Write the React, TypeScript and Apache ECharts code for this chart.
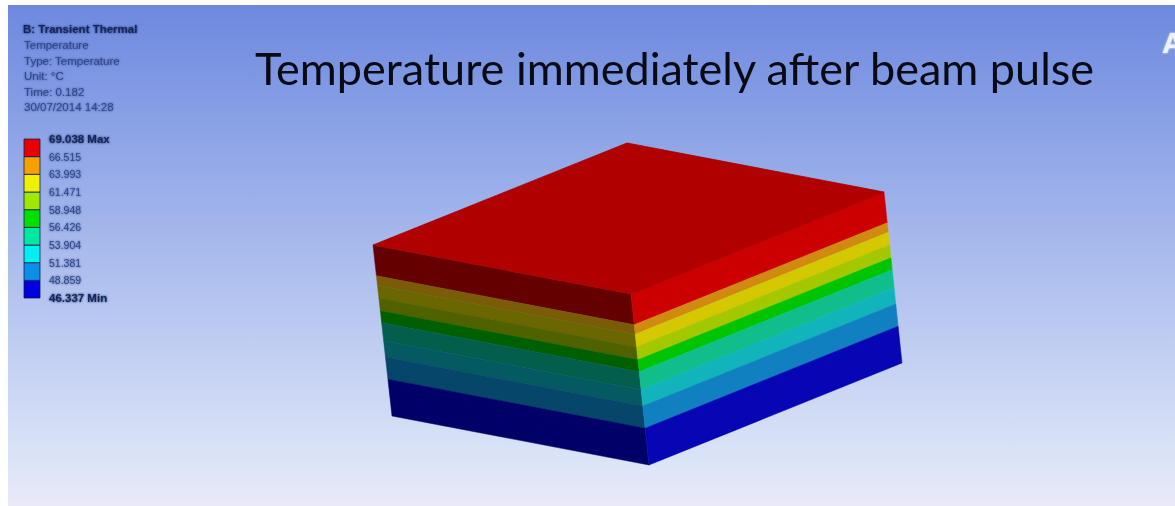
import React, { useEffect, useRef } from "react";
import * as echarts from "echarts";

// ---- Data ----
const chartTitle = "Temperature immediately after beam pulse";
const headerLines = ["Temperature", "Type: Temperature", "Unit: °C", "Time: 0.182", "30/07/2014 14:28"];
const headerTitle = "B: Transient Thermal";
// legend boundaries, from the bottom of the scale upward
const legendValues = [46.337, 48.859, 51.381, 53.904, 56.426, 58.948, 61.471, 63.993, 66.515, 69.038];
const legendColors = ["#0000e0", "#0a8ee8", "#00f0f0", "#00e8a0", "#00e000", "#a0e800", "#f0f000", "#f8a000", "#e80000"];
// box side bands, top to bottom, as fractions of the box height
const bandEdges = [0, 0.18, 0.235, 0.31, 0.385, 0.455, 0.56, 0.655, 0.785, 1];
const bandLitColors = ["#cc0000", "#d08a10", "#d4c800", "#a4c800", "#00c400", "#10be8c", "#12b4bc", "#1080c0", "#0606b4"];
const bandDarkColors = ["#640000", "#7a5c08", "#6c6600", "#506200", "#006000", "#045e4c", "#045a60", "#06466a", "#000068"];

const W = 1175;
const H = 506;

const faceLeft = { topA: [373, 245], topB: [631, 294], botA: [392, 416], botB: [649, 465] };
const faceRight = { topA: [631, 294], topB: [884, 192], botA: [649, 465], botB: [902, 363] };
const faceTop = [[373, 245], [627, 143], [884, 192], [631, 294]];

const mix = (a: number[], b: number[], t: number) => [a[0] + (b[0] - a[0]) * t, a[1] + (b[1] - a[1]) * t];

function bandPolygon(face: typeof faceLeft, t0: number, t1: number, api: any) {
  const pts = [
    mix(face.topA, face.botA, t0),
    mix(face.topB, face.botB, t0),
    mix(face.topB, face.botB, t1),
    mix(face.topA, face.botA, t1),
  ];
  return pts.map((p) => api.coord(p));
}

const smallFont = "Liberation Sans";

export default function App() {
  const ref = useRef<HTMLDivElement>(null);
  useEffect(() => {
    const chart = echarts.init(ref.current!, null, { renderer: "svg", width: W, height: H });
    const blur = (color: string) => ({ textShadowColor: color, textShadowBlur: 2 });
    chart.setOption({
      animation: false,
      title: {
        text: chartTitle,
        left: 255,
        top: 45,
        padding: 0,
        textStyle: { fontFamily: "Lato", fontSize: 45, fontWeight: "normal", color: "#0a0a14" },
      },
      grid: [
        { left: 0, top: 0, width: W, height: H, show: false },
        { left: 24, top: 139, width: 16, height: 159, show: false },
      ],
      xAxis: [
        { type: "value", gridIndex: 0, min: 0, max: W, show: false },
        { type: "value", gridIndex: 1, min: 0, max: 1, show: false },
      ],
      yAxis: [
        { type: "value", gridIndex: 0, min: 0, max: H, inverse: true, show: false },
        { type: "value", gridIndex: 1, min: legendValues[0], max: legendValues[legendValues.length - 1], show: false },
      ],
      graphic: [
        {
          type: "rect",
          z: -10,
          silent: true,
          shape: { x: 8, y: 5, width: W - 8, height: H - 5 },
          style: {
            fill: new echarts.graphic.LinearGradient(0, 0, 0, 1, [
              { offset: 0, color: "#6d89df" },
              { offset: 0.5, color: "#aabced" },
              { offset: 0.93, color: "#dee6f7" },
              { offset: 1, color: "#e9e9f9" },
            ]),
          },
        },
        {
          type: "text",
          x: 23,
          y: 22.5,
          style: { text: headerTitle, fontFamily: smallFont, fontSize: 11.5, fontWeight: "bold", fill: "#14265c", ...blur("#14265c") },
        },
        ...headerLines.map((line, i) => ({
          type: "text",
          x: 24,
          y: 39.2 + i * 15.5,
          style: { text: line, fontFamily: smallFont, fontSize: 11.5, fill: "#30488c", ...blur("#30488c") },
        })),
        {
          type: "text",
          x: 1162,
          y: 27,
          style: { text: "A", fontFamily: "Liberation Sans", fontSize: 30, fontWeight: "bold", fill: "#eef4ff", ...blur("#eef4ff") },
        },
      ],
      series: [
        {
          type: "custom",
          coordinateSystem: "cartesian2d",
          xAxisIndex: 0,
          yAxisIndex: 0,
          silent: true,
          data: bandLitColors.map((_, i) => [bandEdges[i], bandEdges[i + 1], i]),
          renderItem: (_: any, api: any) => {
            const t0 = api.value(0);
            const t1 = api.value(1);
            const i = api.value(2);
            return {
              type: "group",
              children: [
                {
                  type: "polygon",
                  shape: { points: bandPolygon(faceLeft, t0, t1, api) },
                  style: { fill: bandDarkColors[i], stroke: bandDarkColors[i], lineWidth: 0.5 },
                },
                {
                  type: "polygon",
                  shape: { points: bandPolygon(faceRight, t0, t1, api) },
                  style: { fill: bandLitColors[i], stroke: bandLitColors[i], lineWidth: 0.5 },
                },
              ],
            };
          },
          encode: { x: 0, y: 1 },
        },
        {
          type: "custom",
          coordinateSystem: "cartesian2d",
          xAxisIndex: 0,
          yAxisIndex: 0,
          silent: true,
          data: [[0, 0]],
          renderItem: (_: any, api: any) => ({
            type: "polygon",
            shape: { points: faceTop.map((p) => api.coord(p)) },
            style: { fill: "#b00000", stroke: "#a80000", lineWidth: 0.8 },
          }),
        },
        {
          type: "custom",
          coordinateSystem: "cartesian2d",
          xAxisIndex: 1,
          yAxisIndex: 1,
          silent: true,
          data: legendColors.map((_, i) => [legendValues[i], legendValues[i + 1], i]),
          renderItem: (_: any, api: any) => {
            const a = api.coord([0, api.value(0)]);
            const b = api.coord([1, api.value(1)]);
            const i = api.value(2);
            return {
              type: "rect",
              shape: { x: a[0], y: b[1], width: b[0] - a[0], height: a[1] - b[1] },
              style: { fill: legendColors[i], stroke: "#10204a", lineWidth: 0.8 },
            };
          },
          encode: { y: [0, 1] },
        },
        {
          type: "custom",
          coordinateSystem: "cartesian2d",
          xAxisIndex: 1,
          yAxisIndex: 1,
          silent: true,
          data: legendValues.map((v) => [1, v]),
          renderItem: (params: any, api: any) => {
            const p = api.coord([1, api.value(1)]);
            const i = params.dataIndex;
            const last = legendValues.length - 1;
            const end = i === 0 ? " Min" : i === last ? " Max" : "";
            const bold = end !== "";
            const color = bold ? "#14265c" : "#30488c";
            return {
              type: "text",
              x: p[0] + 9,
              y: p[1],
              style: {
                text: legendValues[i].toFixed(3) + end,
                fontFamily: smallFont,
                fontSize: bold ? 11.5 : 10.5,
                fontWeight: bold ? "bold" : "normal",
                fill: color,
                verticalAlign: "middle",
                textShadowColor: color,
                textShadowBlur: 2,
              },
            };
          },
        },
      ],
    });
    return () => chart.dispose();
  }, []);
  return <div ref={ref} style={{ position: "fixed", left: 0, top: 0, width: W, height: H, background: "#fff", filter: "blur(0.5px)" }} />;
}
